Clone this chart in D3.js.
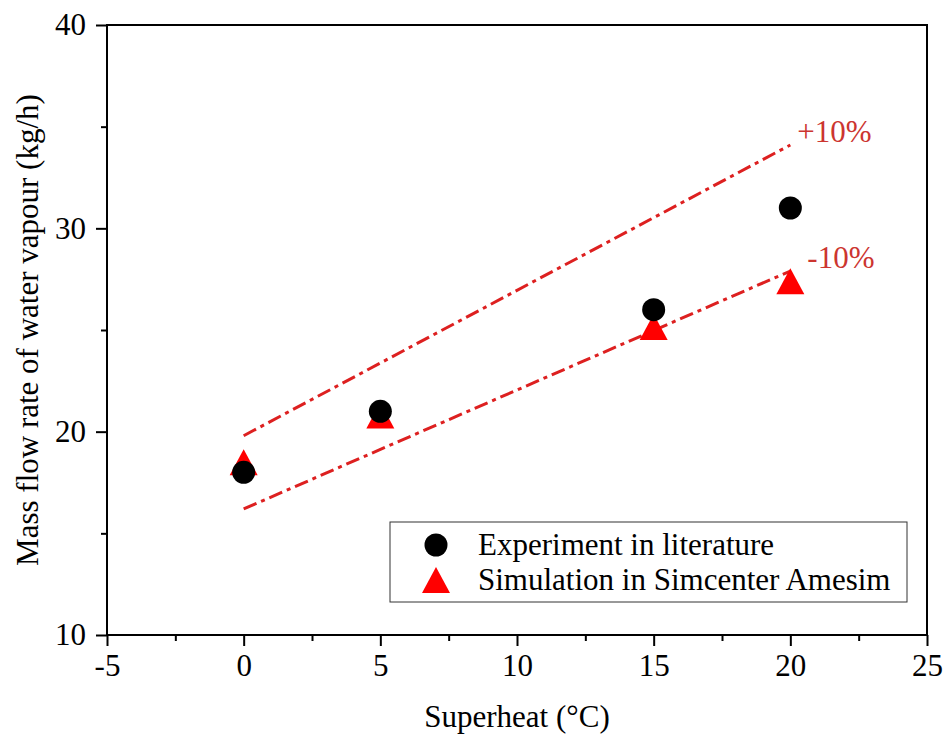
<!DOCTYPE html>
<html>
<head>
<meta charset="utf-8">
<script src="https://cdn.jsdelivr.net/npm/d3@7/dist/d3.min.js"></script>
<style>
  html, body { margin: 0; padding: 0; background: #fff; }
  svg { display: block; }
  text { font-family: "Liberation Serif", "Times New Roman", serif; }
</style>
</head>
<body>
<svg id="chart" width="944" height="740"></svg>
<script>
// Superheat (°C)
const superheat = [0, 5, 15, 20];
// Mass flow rate of water vapour (kg/h)
const experiment = [18.0, 21.0, 26.0, 31.0];
const simulation = [18.5, 20.8, 25.15, 27.4];
// ±10% band drawn between the first and last superheat
const bandX = [0, 20];
const bandPlus = [19.8, 34.1];
const bandMinus = [16.2, 27.9];

const xTicks = [-5, 0, 5, 10, 15, 20, 25];
const xMinor = [-2.5, 2.5, 7.5, 12.5, 17.5, 22.5];
const yTicks = [10, 20, 30, 40];
const yMinor = [15, 25, 35];

const seriesNames = ["Experiment in literature", "Simulation in Simcenter Amesim"];

const svg = d3.select("#chart");
const m = { left: 107, right: 927, top: 25, bottom: 635 };

const x = d3.scaleLinear().domain([-5, 25]).range([m.left, m.right]);
const y = d3.scaleLinear().domain([10, 40]).range([m.bottom, m.top]);

const lineRed = "#dd2020";
const labelRed = "#cc3530";
const fontSize = 31;
const plainNum = d => String(d);   // hyphen minus, as in the printed axis

// frame
svg.append("rect")
  .attr("x", m.left).attr("y", m.top)
  .attr("width", m.right - m.left).attr("height", m.bottom - m.top)
  .attr("fill", "none").attr("stroke", "#000").attr("stroke-width", 2);

// x axis
svg.append("g").attr("transform", `translate(0,${m.bottom})`)
  .call(d3.axisBottom(x).tickValues(xTicks).tickSize(11).tickPadding(8).tickFormat(plainNum));
svg.append("g").attr("transform", `translate(0,${m.bottom})`)
  .call(d3.axisBottom(x).tickValues(xMinor).tickSize(6).tickFormat(""));

// y axis
svg.append("g").attr("transform", `translate(${m.left},0)`)
  .call(d3.axisLeft(y).tickValues(yTicks).tickSize(11).tickPadding(10).tickFormat(plainNum));
svg.append("g").attr("transform", `translate(${m.left},0)`)
  .call(d3.axisLeft(y).tickValues(yMinor).tickSize(6).tickFormat(""));

svg.selectAll(".domain").remove();
svg.selectAll(".tick line").attr("stroke", "#000").attr("stroke-width", 2);
svg.selectAll(".tick text")
  .attr("font-family", "Liberation Serif, serif")
  .attr("font-size", fontSize).attr("fill", "#000");

// axis titles
svg.append("text")
  .attr("x", (m.left + m.right) / 2).attr("y", 727)
  .attr("text-anchor", "middle").attr("font-size", fontSize)
  .text("Superheat (°C)");
svg.append("text")
  .attr("transform", `translate(38,${(m.top + m.bottom) / 2}) rotate(-90)`)
  .attr("text-anchor", "middle").attr("font-size", fontSize)
  .text("Mass flow rate of water vapour (kg/h)");

// ±10% band lines
const band = d3.line().x(d => x(d[0])).y(d => y(d[1]));
[bandPlus, bandMinus].forEach(vals => {
  svg.append("path")
    .datum(bandX.map((v, i) => [v, vals[i]]))
    .attr("d", band)
    .attr("fill", "none").attr("stroke", lineRed)
    .attr("stroke-width", 3)
    .attr("stroke-dasharray", "14,5,4,5");
});
svg.append("text")
  .attr("x", x(bandX[1]) + 7).attr("y", y(bandPlus[1]) - 3)
  .attr("font-size", fontSize).attr("fill", labelRed).text("+10%");
svg.append("text")
  .attr("x", x(bandX[1]) + 17).attr("y", y(bandMinus[1]) - 3)
  .attr("font-size", fontSize).attr("fill", labelRed).text("-10%");

// markers
const triPath = (cx, cy) => {
  const w = 28, h = 26;
  return `M${cx},${cy - h / 2}L${cx + w / 2},${cy + h / 2}L${cx - w / 2},${cy + h / 2}Z`;
};

svg.append("g").selectAll("path")
  .data(superheat.map((s, i) => [s, simulation[i]]))
  .join("path")
  .attr("d", d => triPath(x(d[0]), y(d[1])))
  .attr("fill", "#ff0000");

svg.append("g").selectAll("circle")
  .data(superheat.map((s, i) => [s, experiment[i]]))
  .join("circle")
  .attr("cx", d => x(d[0])).attr("cy", d => y(d[1]))
  .attr("r", 11.5).attr("fill", "#000");

// legend
const lg = svg.append("g");
lg.append("rect")
  .attr("x", 390).attr("y", 522).attr("width", 517).attr("height", 80)
  .attr("fill", "#fff").attr("stroke", "#333").attr("stroke-width", 1);
lg.append("circle").attr("cx", 436).attr("cy", 545).attr("r", 11.5).attr("fill", "#000");
lg.append("path").attr("d", triPath(436, 580)).attr("fill", "#ff0000");
lg.selectAll("text.lab")
  .data(seriesNames)
  .join("text")
  .attr("class", "lab")
  .attr("x", 478).attr("y", (d, i) => 555 + i * 35)
  .attr("font-size", fontSize).attr("fill", "#000")
  .text(d => d);
</script>
</body>
</html>
